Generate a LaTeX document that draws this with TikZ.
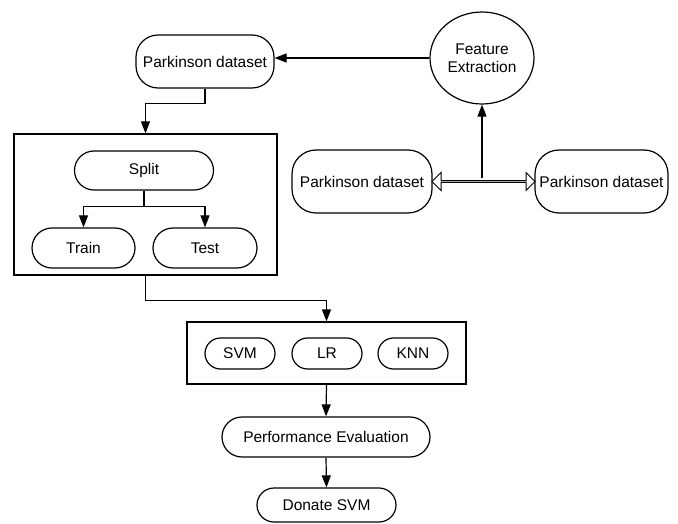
\documentclass[tikz,border=0pt]{standalone}
\usepackage{fontspec}
\setmainfont{Liberation Sans}
\usepackage{tikz}
\usetikzlibrary{shapes, shapes.misc, shapes.arrows, positioning, arrows.meta}

\begin{document}
\begin{tikzpicture}[x=1pt, y=-1pt, line width=1.2pt, font=\fontsize{15.5}{18}\selectfont,
  >={Triangle[length=12pt, width=9pt]}]
\tikzstyle{pill}=[draw, rounded rectangle, inner sep=0pt]
\tikzstyle{dset}=[draw, rectangle, rounded corners=24pt, inner sep=0pt, minimum height=63]
\tikzstyle{frame}=[draw, rectangle, inner sep=0pt]

\useasboundingbox (0,0) rectangle (678,524);

\node[draw, rectangle, rounded corners=22pt, inner sep=0pt, minimum width=138, minimum height=53] (P0) at (205,61.5) {Parkinson dataset};
\node[draw, ellipse, minimum width=104, minimum height=92, align=center, inner sep=0pt] (F) at (482,58) {Feature\\Extraction};
\node[dset, minimum width=140] (P1) at (362,181.5) {Parkinson dataset};
\node[dset, minimum width=133] (P2) at (601.5,181.5) {Parkinson dataset};

\node[frame, minimum width=263, minimum height=141] (B1) at (145.5,204.5) {};
\node[pill, minimum width=139, minimum height=39] (S) at (144,170.5) {Split};
\node[pill, minimum width=103, minimum height=40] (Tr) at (83.5,248) {Train};
\node[pill, minimum width=104, minimum height=40] (Te) at (205,248) {Test};

\node[frame, minimum width=279, minimum height=62] (B2) at (326.5,353) {};
\node[pill, minimum width=70, minimum height=31] (M1) at (240,353.5) {SVM};
\node[pill, minimum width=70, minimum height=31] (M2) at (327,353.5) {LR};
\node[pill, minimum width=70, minimum height=31] (M3) at (413,353.5) {KNN};

\node[pill, minimum width=208, minimum height=40] (E) at (326,437) {Performance Evaluation};
\node[pill, minimum width=139, minimum height=34] (D) at (326.5,505) {Donate SVM};

\coordinate (mid) at (F.south |- P1.east);

\draw[->] (P0.south) -- ++(0,15) -| (B1.north);
\draw[->] (F.west) -- (F.west -| P0.east);
\path (P1.east) -- (P2.west) node[midway, draw, double arrow, line width=1pt, inner sep=0pt,
  minimum width=18pt, minimum height=103pt, double arrow head extend=5pt] (DA) {};
\draw[->] ([yshift=3pt]mid) -- (F.south);

\draw (S.south) -- ++(0,16) coordinate (br);
\draw[->] (br) -| (Tr.north);
\draw[->] (br) -| (Te.north);

\draw[->] (B1.south) -- ++(0,25) -| (B2.north);
\draw[->] (B2.south) -- (E.north);
\draw[->] (E.south) -- (D.north);

\end{tikzpicture}
\end{document}
